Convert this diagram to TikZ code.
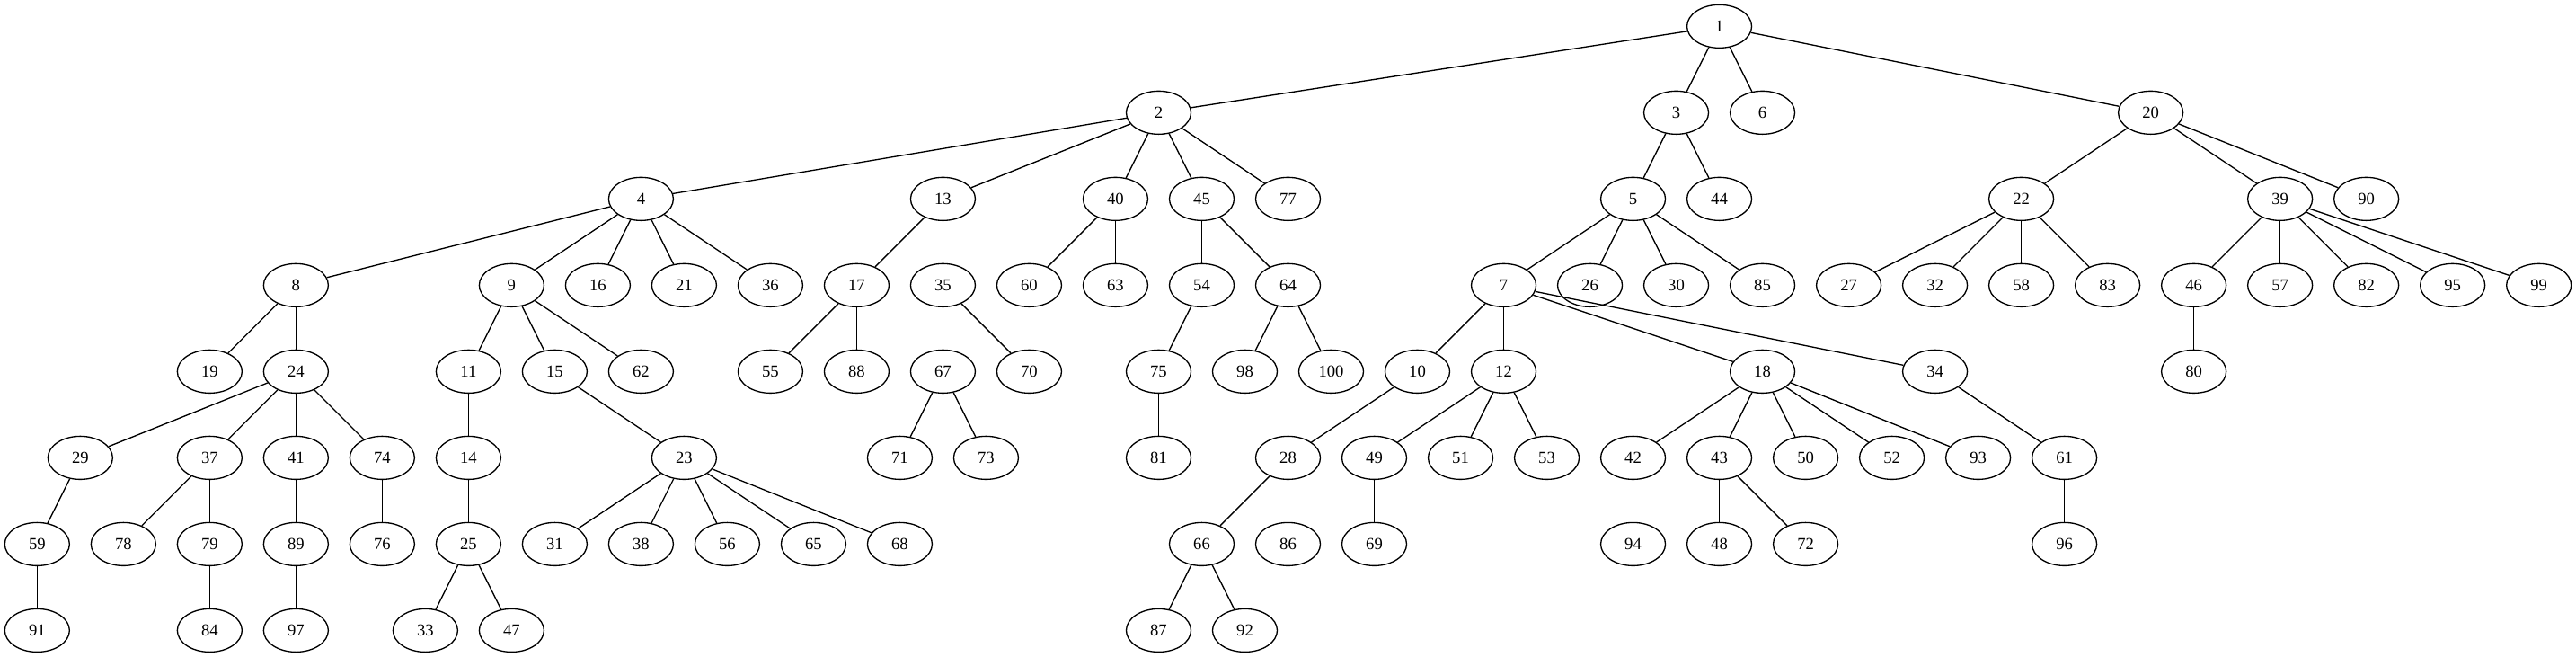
\documentclass[tikz,border=0pt]{standalone}
\usepackage{fontspec}
\setmainfont{Liberation Serif}
\usetikzlibrary{shapes.geometric}
\tikzset{
  v/.style={ellipse, draw, line width=1pt, minimum width=54pt, minimum height=36pt, inner sep=0pt, font=\fontsize{14}{16}\selectfont},
  e/.style={line width=1pt}
}
\begin{document}
\begin{tikzpicture}[x=36pt,y=-72pt]
\useasboundingbox (-31pt,22pt) rectangle (2119pt,-526pt);
\foreach \nm/\c/\r in {
 1/39/0,
 2/26/1, 3/38/1, 6/40/1, 20/49/1,
 4/14/2, 13/21/2, 40/25/2, 45/27/2, 77/29/2, 5/37/2, 44/39/2, 22/46/2, 39/52/2, 90/54/2,
 8/6/3, 9/11/3, 16/13/3, 21/15/3, 36/17/3, 17/19/3, 35/21/3, 60/23/3, 63/25/3, 54/27/3, 64/29/3, 7/34/3, 26/36/3, 30/38/3, 85/40/3, 27/42/3, 32/44/3, 58/46/3, 83/48/3, 46/50/3, 57/52/3, 82/54/3, 95/56/3, 99/58/3,
 19/4/4, 24/6/4, 11/10/4, 15/12/4, 62/14/4, 55/17/4, 88/19/4, 67/21/4, 70/23/4, 75/26/4, 98/28/4, 100/30/4, 10/32/4, 12/34/4, 18/40/4, 34/44/4, 80/50/4,
 29/1/5, 37/4/5, 41/6/5, 74/8/5, 14/10/5, 23/15/5, 71/20/5, 73/22/5, 81/26/5, 28/29/5, 49/31/5, 51/33/5, 53/35/5, 42/37/5, 43/39/5, 50/41/5, 52/43/5, 93/45/5, 61/47/5,
 59/0/6, 78/2/6, 79/4/6, 89/6/6, 76/8/6, 25/10/6, 31/12/6, 38/14/6, 56/16/6, 65/18/6, 68/20/6, 66/27/6, 86/29/6, 69/31/6, 94/37/6, 48/39/6, 72/41/6, 96/47/6,
 91/0/7, 84/4/7, 97/6/7, 33/9/7, 47/11/7, 87/26/7, 92/28/7}
 \node[v] (n\nm) at (\c,\r) {\nm};
\foreach \a/\b in {
 1/2, 1/3, 1/6, 1/20,
 2/4, 2/13, 2/40, 2/45, 2/77,
 3/5, 3/44,
 20/22, 20/39, 20/90,
 4/8, 4/9, 4/16, 4/21, 4/36,
 13/17, 13/35,
 40/60, 40/63,
 45/54, 45/64,
 5/7, 5/26, 5/30, 5/85,
 22/27, 22/32, 22/58, 22/83,
 39/46, 39/57, 39/82, 39/95, 39/99,
 8/19, 8/24,
 9/11, 9/15, 9/62,
 17/55, 17/88,
 35/67, 35/70,
 54/75,
 64/98, 64/100,
 7/10, 7/12, 7/18, 7/34,
 46/80,
 24/29, 24/37, 24/41, 24/74,
 11/14, 15/23,
 67/71, 67/73,
 75/81, 10/28,
 12/49, 12/51, 12/53,
 18/42, 18/43, 18/50, 18/52, 18/93,
 34/61, 29/59,
 37/78, 37/79,
 41/89, 74/76, 14/25,
 23/31, 23/38, 23/56, 23/65, 23/68,
 28/66, 28/86,
 49/69, 42/94,
 43/48, 43/72,
 61/96, 59/91, 79/84, 89/97,
 25/33, 25/47,
 66/87, 66/92}
 \draw[e] (n\a) -- (n\b);
\end{tikzpicture}
\end{document}
